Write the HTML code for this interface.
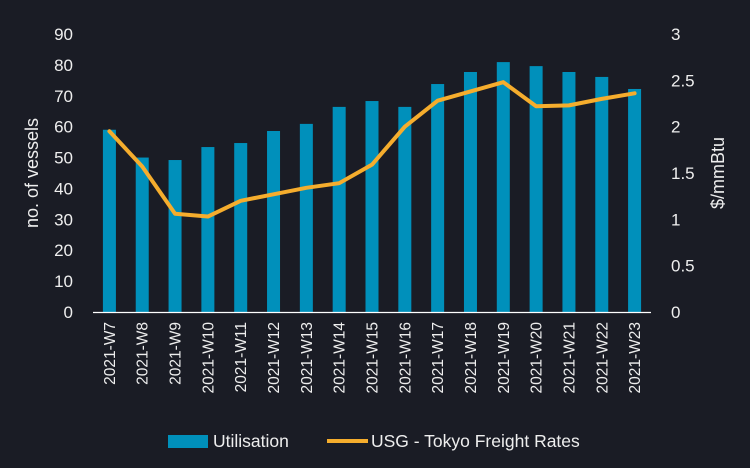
<!DOCTYPE html>
<html><head><meta charset="utf-8"><style>
body{margin:0;background:#1a1c25;}
svg{display:block;font-family:"Liberation Sans",sans-serif;}
</style></head><body>
<svg id="c" width="750" height="468">
<rect width="750" height="468" fill="#1a1c25"/>
</svg>
<script>
const categories=["2021-W7","2021-W8","2021-W9","2021-W10","2021-W11","2021-W12","2021-W13","2021-W14","2021-W15","2021-W16","2021-W17","2021-W18","2021-W19","2021-W20","2021-W21","2021-W22","2021-W23"];
const utilisation=[59,50,49.2,53.4,54.7,58.6,60.9,66.4,68.3,66.4,73.8,77.7,80.9,79.6,77.7,76.1,72.2];
const freight=[1.95,1.57,1.06,1.03,1.2,1.27,1.34,1.39,1.59,2.0,2.28,2.38,2.48,2.22,2.23,2.3,2.36];
const leftTicks=[0,10,20,30,40,50,60,70,80,90];
const rightTicks=[0,0.5,1,1.5,2,2.5,3];
const rightTickLabels=["0","0.5","1","1.5","2","2.5","3"];
const svg=document.getElementById('c');const NS="http://www.w3.org/2000/svg";
const X0=93,X1=651,Y0=312,Y1=34;
const bw=(X1-X0)/categories.length;
const xC=i=>X0+bw*(i+0.5);
const yL=v=>Y0-(v/90)*(Y0-Y1);
const yR=v=>Y0-(v/3)*(Y0-Y1);
function mk(t,a,txt){const e=document.createElementNS(NS,t);for(const k in a)e.setAttribute(k,a[k]);if(txt!==undefined)e.textContent=txt;svg.appendChild(e);return e;}
utilisation.forEach((v,i)=>{const r=mk('rect',{x:xC(i)-6.5,y:yL(v),width:13,height:Y0-yL(v),fill:'#0090bb'});

});
const ax=mk('line',{x1:X0,x2:X1,y1:Y0+0.5,y2:Y0+0.5,stroke:'#fff','stroke-width':1.3});


const pl=mk('polyline',{points:freight.map((v,i)=>xC(i)+','+yR(v)).join(' '),fill:'none',stroke:'#f5ad2d','stroke-width':4,'stroke-linejoin':'round','stroke-linecap':'round'});


leftTicks.forEach(v=>{const t=mk('text',{x:73,y:yL(v)+6,'text-anchor':'end',fill:'#eee','font-size':17},String(v));

});
rightTicks.forEach((v,i)=>{const t=mk('text',{x:671,y:yR(v)+6,fill:'#eee','font-size':17},rightTickLabels[i]);

});
categories.forEach((c,i)=>{const t=mk('text',{x:0,y:0,transform:`translate(${xC(i)+5.5},322) rotate(-90)`,'text-anchor':'end',fill:'#eee','font-size':15.5},c);

});
const lt=mk('text',{x:0,y:0,transform:'translate(38,173) rotate(-90)','text-anchor':'middle',fill:'#eee','font-size':18},'no. of vessels');


const rt=mk('text',{x:0,y:0,transform:'translate(724,173) rotate(-90)','text-anchor':'middle',fill:'#eee','font-size':18},'$/mmBtu');


const l1=mk('rect',{x:168,y:435,width:40,height:13,fill:'#0090bb'});


const l1t=mk('text',{x:213,y:447,fill:'#eee','font-size':17.5},'Utilisation');


const l2=mk('line',{x1:327,x2:368,y1:441,y2:441,stroke:'#f5ad2d','stroke-width':4});


const l2t=mk('text',{x:371,y:447,fill:'#eee','font-size':17.5},'USG - Tokyo Freight Rates');


</script>
</body></html>
